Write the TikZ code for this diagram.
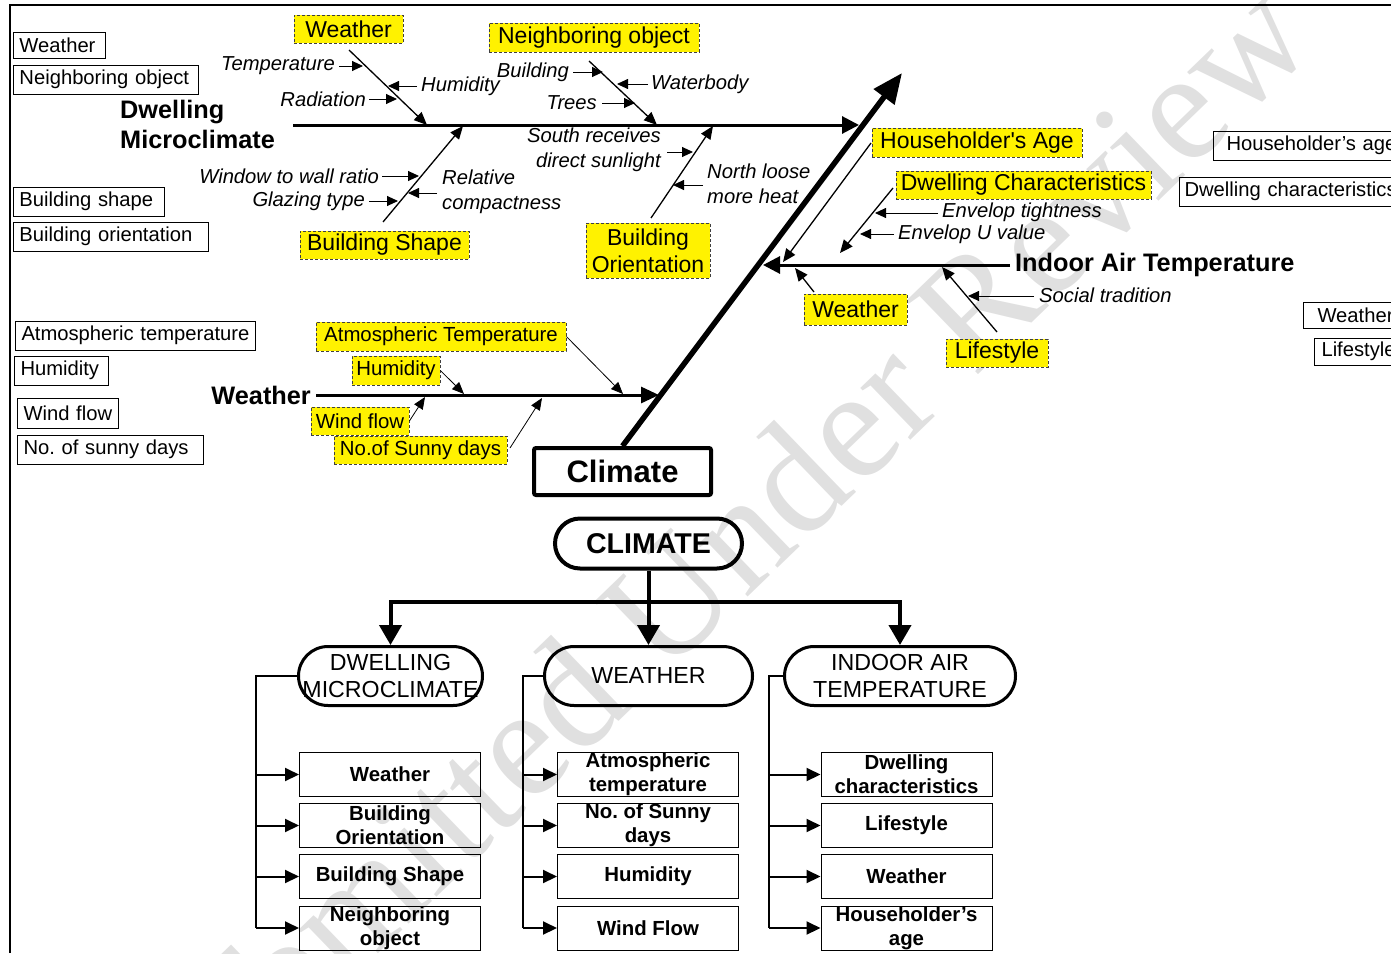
\documentclass[tikz,border=0pt]{standalone}
\usepackage{fontspec}
\setmainfont{Liberation Sans}
\newfontfamily\wmserif{Liberation Serif}
\usetikzlibrary{arrows.meta,calc}

% font sizes (1pt = 1 pixel of the drawing)
\newcommand\fsN{\fontsize{20.2}{24}\selectfont}
\newcommand\fsI{\fontsize{20.2}{25}\selectfont\itshape}
\newcommand\fsY{\fontsize{23}{27}\selectfont}
\newcommand\fsW{\fontsize{20.4}{24}\selectfont}
\newcommand\fsB{\fontsize{25.3}{30}\selectfont\bfseries}
\newcommand\fsL{\fontsize{20.4}{24}\selectfont\bfseries}
\newcommand\fsM{\fontsize{23.2}{27}\selectfont}

\begin{document}
\begin{tikzpicture}[x=1pt,y=-1pt,line join=miter,
  lbox/.style={draw,line width=1pt,font=\fsN,inner xsep=6pt,inner ysep=0pt,
    minimum height=29pt,align=left,anchor=west,text width=#1},
  ybox/.style={draw=black!75,line width=0.8pt,dash pattern=on 3pt off 2pt,
    fill=yellow,font=\fsY,inner sep=0pt,align=center},
  it/.style={font=\fsI,inner sep=0pt},
  spine/.style={line width=3pt,-{Triangle[length=17pt,width=17pt]}},
  bone/.style={line width=1.3pt,-{Triangle[length=13pt,width=11pt]}},
  small/.style={line width=0.9pt,-{Triangle[length=11pt,width=10pt]}},
  wbone/.style={line width=0.8pt,-{Triangle[length=12pt,width=10pt]}},
  stad/.style={draw,line width=3pt,rounded corners=29.5pt,minimum height=59pt,
    inner sep=0pt,font=\fsM,align=center},
  leaf/.style={draw,line width=1pt,minimum width=181pt,minimum height=44pt,
    inner sep=0pt,font=\fsL,align=center},
  bigarr/.style={line width=4pt,-{Triangle[length=20pt,width=22pt]}},
  leafarr/.style={line width=2pt,-{Triangle[length=14pt,width=13pt]}},
  tline/.style={line width=2pt}
]
\useasboundingbox (0,0) rectangle (1391,953);

% watermark
\node[rotate=44,anchor=base,text=black!12,inner sep=0pt,
  font={\wmserif\fontsize{157}{160}\selectfont}] (wm) at (745,600)
  {Submitted Under Review};

% frame
\draw[line width=2.5pt] (10,953) -- (10,5) -- (1391,5);

% ---------- legend boxes, left ----------
\node[lbox=80,minimum height=26pt] (lbw) at (13,45) {Weather};
\node[lbox=173] (lbn) at (13,79.5) {Neighboring object};
\node[lbox=139] (lbs) at (13,201.5) {Building shape};
\node[lbox=183] (lbo) at (13,236.5) {Building orientation};
\node[lbox=228] (lba) at (15,335.5) {Atmospheric temperature};
\node[lbox=82] (lbh) at (14,370.5) {Humidity};
\node[lbox=89,minimum height=30pt] (lbf) at (17,413) {Wind flow};
\node[lbox=174] (lbd) at (17,449.5) {No.\ of sunny days};

% ---------- legend boxes, right ----------
\node[lbox=190,inner xsep=13pt] (rba) at (1213,145.5) {Householder’s age};
\node[lbox=250,inner xsep=5pt] (rbd) at (1179,191.5) {Dwelling characteristics};
\node[lbox=100,inner xsep=14pt,minimum height=26pt] (rbw) at (1303,315) {Weather};
\node[lbox=100,inner xsep=7pt,minimum height=27pt] (rbl) at (1314,351.5) {Lifestyle};

% ---------- fishbone: main spine and Climate ----------
\node[draw,line width=4pt,rounded corners=2pt,minimum width=177pt,minimum height=47pt,
  inner sep=0pt,font={\fontsize{31}{34}\selectfont\bfseries}] (cl) at (622.5,471.5) {Climate};
\coordinate (diagtip) at (902,73);
\draw[line width=5.5pt,-{Triangle[length=30pt,width=25pt]}] (cl.north) -- (diagtip);

% Dwelling microclimate branch
\node[font=\fsB,align=left,anchor=west,inner sep=0pt] (dml) at (120,124)
  {Dwelling\\Microclimate};
\coordinate (ds0) at (293,125);
\coordinate (ds1) at (859,125);
\draw[spine] (ds0) -- (ds1);

\node[ybox,minimum width=109pt,minimum height=28pt] (yw1) at (348.5,29) {Weather};
\node[ybox,minimum width=210pt,minimum height=29pt] (yno) at (594,37.5) {Neighboring object};
\node[ybox,minimum width=169pt,minimum height=28pt] (ybs) at (384.5,245) {Building Shape};
\node[ybox,minimum width=124pt,minimum height=55pt] (ybo) at (648,250.5) {Building\\Orientation};

\coordinate (b1s) at (349,50);  \coordinate (b1e) at (427,125);
\coordinate (b2s) at (589,61);  \coordinate (b2e) at (657,125);
\coordinate (b3s) at (383,222); \coordinate (b3e) at (463,126);
\coordinate (b4s) at (651,218); \coordinate (b4e) at (713,126);
\draw[bone] (b1s) -- (b1e);
\draw[bone] (b2s) -- (b2e);
\draw[bone] (b3s) -- (b3e);
\draw[bone] (b4s) -- (b4e);

\node[it,anchor=east] (tTemp) at (335,66) {Temperature};
\node[it,anchor=east] (tRad) at (366,99) {Radiation};
\node[it,anchor=west] (tHum) at (421,86) {Humidity};
\draw[small] (tTemp.east) ++(4,0) -- (363,66);
\draw[small] (tRad.east) ++(3,0) -- (397,99);
\draw[small] (tHum.west) ++(-4,0) -- (388,86);

\node[it,anchor=east] (tBld) at (569,72) {Building};
\node[it,anchor=east] (tTre) at (597,103) {Trees};
\node[it,anchor=west] (tWat) at (651,84) {Waterbody};
\draw[small] (tBld.east) ++(4,0) -- (603,72);
\draw[small] (tTre.east) ++(5,0) -- (635,103);
\draw[small] (tWat.west) ++(-3,0) -- (617,84);

\node[it,anchor=east] (tWin) at (379,176) {Window to wall ratio};
\node[it,anchor=east] (tGla) at (365,201) {Glazing type};
\node[it,anchor=west,align=left] (tRel) at (442,192) {Relative\\compactness};
\draw[small] (tWin.east) ++(3,0) -- (419,176);
\draw[small] (tGla.east) ++(4,0) -- (398,201);
\draw[small] (437,193) -- (408,193);

\node[it,anchor=east,align=right] (tSou) at (661,150) {South receives\\direct sunlight};
\node[it,anchor=west,align=left] (tNor) at (707,184) {North loose\\more heat};
\draw[small] (tSou.east) ++(6,2) -- (693,152);
\draw[small] (tNor.west) ++(-4,1) -- (673,185);

% Weather branch
\node[font=\fsB,anchor=east,inner xsep=5pt,inner ysep=0pt] (wl) at (316,395) {Weather};
\coordinate (ws1) at (659,395);
\draw[spine,-{Triangle[length=18pt,width=16pt]}] (wl.east) -- (ws1);

\node[ybox,font=\fsW,minimum width=250pt,minimum height=29pt] (ywa) at (441,336.5) {Atmospheric Temperature};
\node[ybox,font=\fsW,minimum width=88pt,minimum height=29pt] (ywh) at (396,370.5) {Humidity};
\node[ybox,font=\fsW,minimum width=98pt,minimum height=28pt] (ywf) at (360,421) {Wind flow};
\node[ybox,font=\fsW,minimum width=173pt,minimum height=28pt] (ywd) at (420.5,450) {No.of Sunny days};
\draw[wbone] (ywa.east) -- (623,394);
\draw[wbone] (ywh.east) -- (464,394);
\draw[wbone] (ywf.east) -- (425,397);
\draw[wbone] (510,448) -- (542,398);

% Indoor air temperature branch
\node[font=\fsB,anchor=west,inner xsep=5pt,inner ysep=0pt] (iat) at (1010,265) {Indoor Air Temperature};
\coordinate (is1) at (763,265);
\draw[spine] (iat.west) -- (is1);

\node[ybox,minimum width=210pt,minimum height=29pt] (yha) at (977,142.5) {Householder\textquotesingle s Age};
\node[ybox,minimum width=255pt,minimum height=28pt] (ydc) at (1023.5,185) {Dwelling Characteristics};
\node[ybox,minimum width=103pt,minimum height=31pt] (yw2) at (855.5,309.5) {Weather};
\node[ybox,minimum width=102pt,minimum height=28pt] (yls) at (997,353) {Lifestyle};

\draw[bone] (871,143) -- (783,262);
\draw[bone] (893,188) -- (840,253);
\draw[bone] (814,292) -- (795,268);
\draw[bone] (997,332) -- (942,267);

\node[it,anchor=west] (tEnT) at (942,212) {Envelop tightness};
\node[it,anchor=west] (tEnU) at (898,234) {Envelop U value};
\node[it,anchor=west] (tSoc) at (1039,295) {Social tradition};
\draw[small] (tEnT.west) ++(-4,1) -- (875,213);
\draw[small] (tEnU.west) ++(-4,0) -- (860,234);
\draw[small] (tSoc.west) ++(-5,1) -- (968,296);

% ---------- hierarchy ----------
\node[draw,line width=4pt,rounded corners=25pt,minimum width=187pt,minimum height=50pt,
  inner sep=0pt,font={\fontsize{28.6}{31}\selectfont\bfseries}] (cm) at (648.5,543.5) {CLIMATE};

\node[stad,minimum width=184pt] (dm) at (390.5,676) {DWELLING\\MICROCLIMATE};
\node[stad,minimum width=208pt] (wt) at (648.5,676) {WEATHER};
\node[stad,minimum width=231pt] (ia) at (900,676) {INDOOR AIR\\TEMPERATURE};

\coordinate (barL) at (390.5,602);
\coordinate (barR) at (900,602);
\draw[bigarr] (cm.south) -- (wt.north);
\draw[bigarr] (barR) -- (barL) -- (dm.north);
\draw[bigarr] (barL) -- (barR) -- (ia.north);

% leaves
\node[leaf] (d1) at (390,774.5) {Weather};
\node[leaf] (d2) at (390,825.5) {Building\\Orientation};
\node[leaf] (d3) at (390,876.5) {Building Shape};
\node[leaf] (d4) at (390,928) {Neighboring\\object};

\node[leaf] (w1) at (648,774.5) {Atmospheric\\temperature};
\node[leaf] (w2) at (648,825.5) {No.\ of Sunny\\days};
\node[leaf] (w3) at (648,876.5) {Humidity};
\node[leaf] (w4) at (648,928) {Wind Flow};

\node[leaf,minimum width=171pt] (i1) at (906.5,774.5) {Dwelling\\characteristics};
\node[leaf,minimum width=171pt] (i2) at (906.5,825.5) {Lifestyle};
\node[leaf,minimum width=171pt] (i3) at (906.5,876.5) {Weather};
\node[leaf,minimum width=171pt] (i4) at (906.5,928) {Householder’s\\age};

% leaf connectors
\coordinate (dmv) at ($(dm.west)+(-41,0)$);
\coordinate (wtv) at ($(wt.west)+(-20,0)$);
\coordinate (iav) at ($(ia.west)+(-14,0)$);
\draw[tline] (dm.west) -- (dmv) -- (dmv |- d4.west);
\draw[tline] (wt.west) -- (wtv) -- (wtv |- w4.west);
\draw[tline] (ia.west) -- (iav) -- (iav |- i4.west);
\foreach \n in {d1,d2,d3,d4}{\draw[leafarr] (dmv |- \n.west) -- (\n.west);}
\foreach \n in {w1,w2,w3,w4}{\draw[leafarr] (wtv |- \n.west) -- (\n.west);}
\foreach \n in {i1,i2,i3,i4}{\draw[leafarr] (iav |- \n.west) -- (\n.west);}
\end{tikzpicture}
\end{document}
